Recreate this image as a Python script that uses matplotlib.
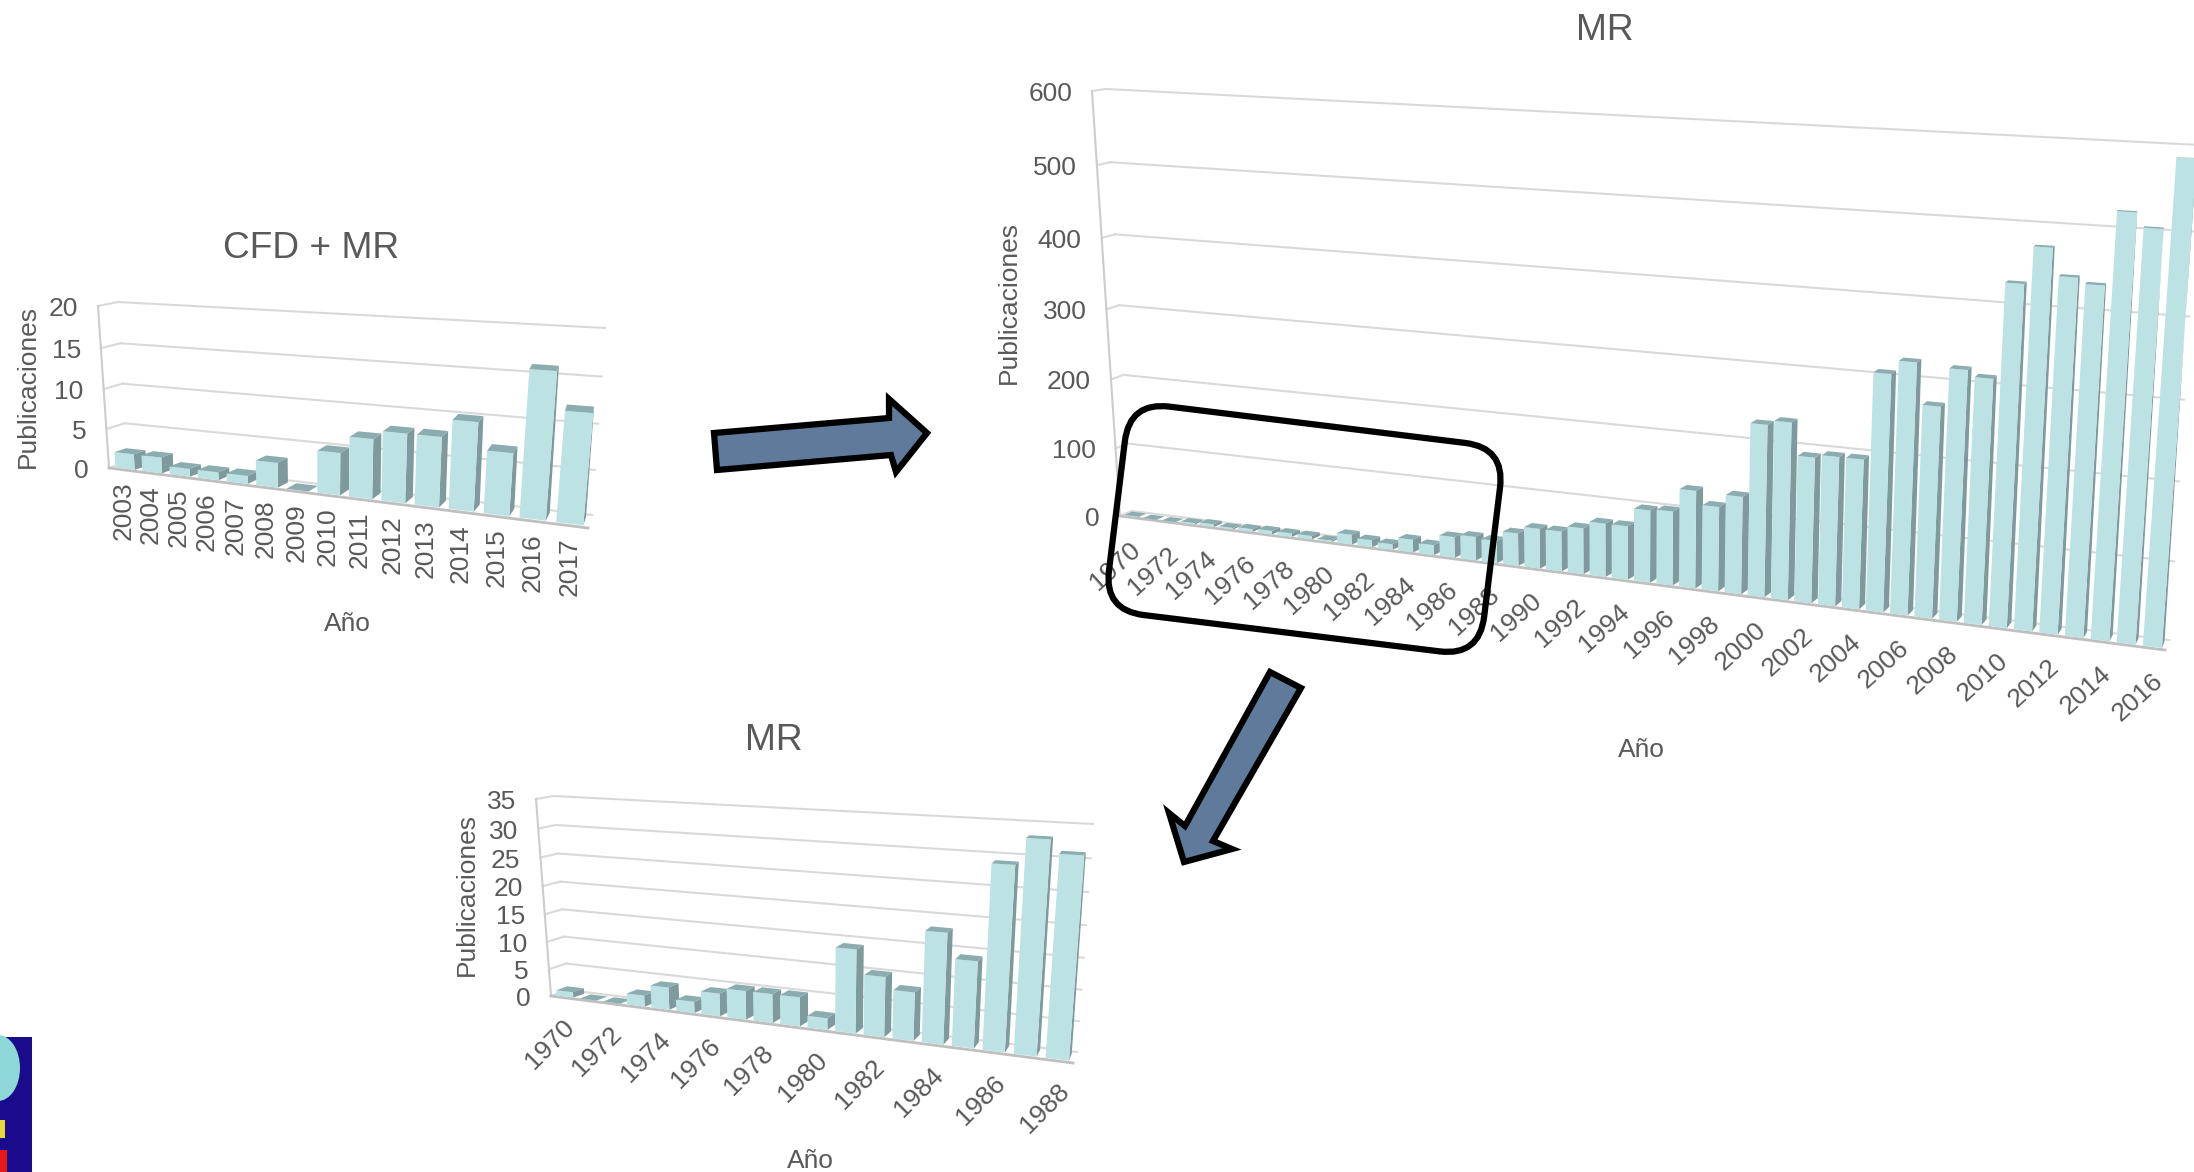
import numpy as np
import matplotlib
matplotlib.use('Agg')
import matplotlib.pyplot as plt
from matplotlib.patches import Polygon, FancyBboxPatch, Rectangle, Ellipse
from matplotlib.transforms import Affine2D

plt.rcParams['font.family'] = ['Liberation Sans', 'DejaVu Sans']

# data
cfd_years = list(range(2003, 2018))
cfd_values = [2, 2, 1, 1, 1, 3, 0, 5, 7, 8, 8, 10, 7, 16, 12]
cfd_ticks = [0, 5, 10, 15, 20]

mr_years = list(range(1970, 2017))
mr_values = [1, 0, 0, 2, 4, 2, 4, 5, 5, 5, 2, 14, 10, 8, 18, 14, 29, 33, 31,
             45, 55, 55, 63, 73, 73, 98, 100, 131, 113, 130, 227, 233,
             191, 195, 195, 306, 323, 271, 319, 311, 428, 473, 440, 433,
             520, 503, 585]
mr_ticks = [0, 100, 200, 300, 400, 500, 600]

early_years = list(range(1970, 1989))
early_values = [1, 0, 0, 2, 4, 2, 4, 5, 5, 5, 2, 14, 10, 8, 18, 14, 29, 33, 31]
early_ticks = [0, 5, 10, 15, 20, 25, 30, 35]

FRONT = '#BCE2E4'
SIDE = '#7E9A9D'
TOP = '#8BADB0'
GRID = '#D9D9D9'
TEXT = '#595959'
ARROW = '#5F7A9A'


def homography(corners):
    # corners for (0,0), (1,0), (1,1), (0,1)
    src = [(0, 0), (1, 0), (1, 1), (0, 1)]
    A, b = [], []
    for (u, v), (x, y) in zip(src, corners):
        A.append([u, v, 1, 0, 0, 0, -u * x, -v * x])
        A.append([0, 0, 0, u, v, 1, -u * y, -v * y])
        b += [x, y]
    h = np.linalg.solve(np.array(A, float), np.array(b, float))
    return np.append(h, 1).reshape(3, 3)


def bar_chart(ax, years, values, ticks, front, back, title, title_pos, ylabel_pos,
              xlabel_pos, tick_step=1, rot=42, bar_d=(0.15, 0.8), gap=0.14, lab_off=(0, 22)):
    H0 = homography(front)
    H1 = homography(back)
    n = len(years)
    ymax = ticks[-1]

    def pt(x, val, d):
        q = np.array([x / n, val / ymax, 1.0])
        a = H0 @ q
        b = H1 @ q
        return (1 - d) * a[:2] / a[2] + d * b[:2] / b[2]

    # back wall, left wall, axis
    for t in ticks:
        p = [pt(0, t, 1), pt(n, t, 1)]
        ax.plot(*zip(*p), color=GRID, lw=1.5, zorder=1)
        p = [pt(0, t, 0), pt(0, t, 1)]
        ax.plot(*zip(*p), color=GRID, lw=1.5, zorder=1)
        x, y = pt(0, t, 0)
        ax.text(x - 20, y + 3, str(t), ha='right', va='center', fontsize=19, color=TEXT)
    p = [pt(0, 0, 0), pt(0, ymax, 0)]
    ax.plot(*zip(*p), color='#CCCCCC', lw=1.5, zorder=2)
    p = [pt(0, 0, 0), pt(n, 0, 0)]
    ax.plot(*zip(*p), color='#BFBFBF', lw=2, zorder=2)

    # bars
    d0, d1 = bar_d
    for i, val in enumerate(values):
        x0, x1 = i + gap, i + 1 - gap
        z = 3 + i * 0.01
        if val > 0:
            ax.add_patch(Polygon([pt(x1, 0, d0), pt(x1, 0, d1), pt(x1, val, d1), pt(x1, val, d0)],
                                 fc=SIDE, ec='none', zorder=z))
            ax.add_patch(Polygon([pt(x0, 0, d0), pt(x1, 0, d0), pt(x1, val, d0), pt(x0, val, d0)],
                                 fc=FRONT, ec='none', zorder=z))
        ax.add_patch(Polygon([pt(x0, val, d0), pt(x1, val, d0), pt(x1, val, d1), pt(x0, val, d1)],
                             fc=TOP, ec='none', zorder=z))

    # x tick labels
    for i in range(0, n, tick_step):
        x, y = pt(i + 0.5, 0, 0)
        if rot == 90:
            ax.text(x + lab_off[0], y + lab_off[1], str(years[i]), rotation=90, ha='center', va='top',
                    fontsize=19, color=TEXT)
        else:
            ax.text(x + lab_off[0], y + lab_off[1], str(years[i]), rotation=rot, ha='right', va='top',
                    rotation_mode='anchor', fontsize=19, color=TEXT)

    ax.text(title_pos[0], title_pos[1] + 4, title, ha='center', va='center', fontsize=26.7, color=TEXT)
    ax.text(*ylabel_pos, 'Publicaciones', rotation=90, ha='center', va='center', fontsize=19, color=TEXT)
    ax.text(xlabel_pos[0], xlabel_pos[1] + 3, 'Año', ha='center', va='center', fontsize=19, color=TEXT)


fig = plt.figure(figsize=(21.94, 11.72), dpi=100)
ax = fig.add_axes([0, 0, 1, 1])
ax.set_xlim(0, 2194)
ax.set_ylim(1172, 0)
ax.axis('off')

bar_chart(ax, cfd_years, cfd_values, cfd_ticks,
          front=[(109, 468), (588, 528), (606, 335), (98, 306)],
          back=[(127, 462), (592, 515), (605, 328), (118, 302)],
          title='CFD + MR', title_pos=(311, 245), ylabel_pos=(28, 386), xlabel_pos=(347, 621),
          rot=90, lab_off=(1, 12))

bar_chart(ax, mr_years, mr_values, mr_ticks,
          front=[(1120, 516), (2165, 650), (2202, 145), (1092, 91)],
          back=[(1132, 511), (2169, 640), (2200, 145), (1106, 89)],
          title='MR', title_pos=(1605, 27), ylabel_pos=(1009, 302), xlabel_pos=(1641, 747),
          tick_step=2, gap=0.14, lab_off=(0, 20))

bar_chart(ax, early_years, early_values, early_ticks,
          front=[(551, 996), (1073, 1063), (1091, 828), (536, 799)],
          back=[(568, 990), (1077, 1052), (1093, 824), (554, 796)],
          title='MR', title_pos=(774, 737), ylabel_pos=(467, 895), xlabel_pos=(810, 1158),
          tick_step=2, gap=0.14, rot=45, lab_off=(0, 18))

# highlight box on the big chart
tr = Affine2D().rotate_deg_around(1304.5, 529, 7) + ax.transData
box = FancyBboxPatch((1304.5 - 155, 529 - 71), 310, 142, boxstyle='round,pad=0,rounding_size=36',
                     fc='none', ec='black', lw=4.5, transform=tr, zorder=8)
box.set_boxstyle('round,pad=34,rounding_size=40')
ax.add_patch(box)

# arrows between charts
arrow1 = [(714, 433), (717, 470), (891, 455), (896, 472), (927, 433), (889, 399), (889, 418)]
arrow2 = [(1270, 672), (1301, 688), (1213, 841), (1232, 849), (1184, 862), (1169, 813), (1185, 826)]
for a in (arrow1, arrow2):
    ax.add_patch(Polygon(a, fc=ARROW, ec='black', lw=4.5, joinstyle='miter', zorder=9))

# bit of a picture cut off at the bottom left corner
ax.add_patch(Rectangle((0, 1037), 32, 135, fc='#1A0A8C', ec='none', zorder=5))
ax.add_patch(Ellipse((-2, 1068), 44, 66, fc='#8FD8D8', ec='none', zorder=6))
ax.add_patch(Rectangle((0, 1120), 5, 18, fc='#E8D838', ec='none', zorder=6))
ax.add_patch(Rectangle((0, 1150), 7, 22, fc='#E81818', ec='none', zorder=6))

fig.savefig('out.png', dpi=100)
